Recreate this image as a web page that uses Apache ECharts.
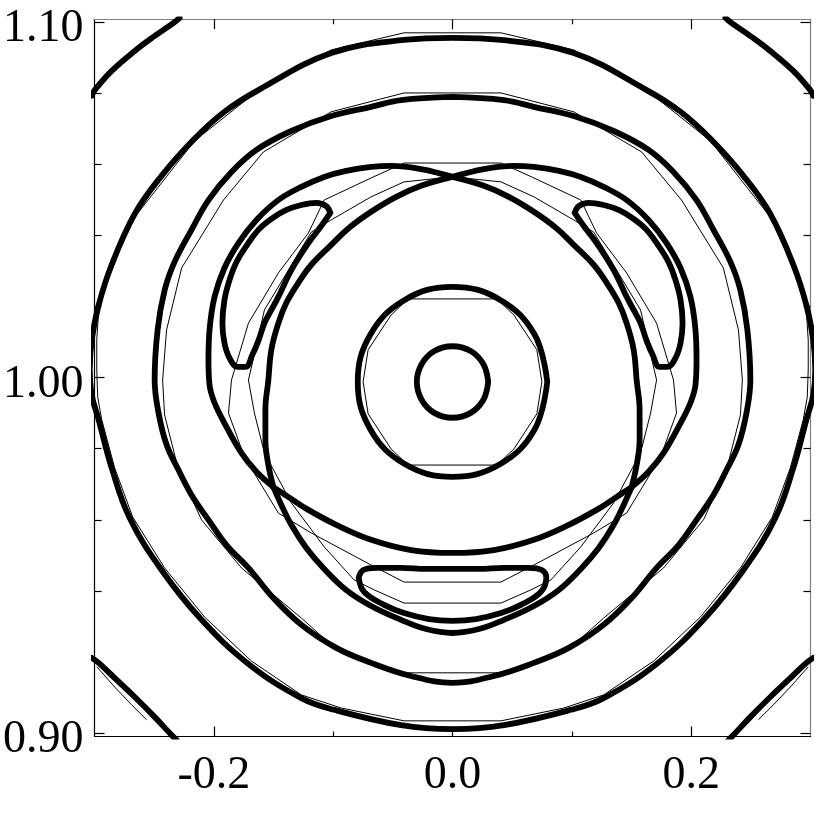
<!DOCTYPE html>
<html><head><meta charset="utf-8">
<script src="https://cdn.jsdelivr.net/npm/echarts@6/dist/echarts.min.js"></script>
<style>html,body{margin:0;padding:0;background:#fff}#c{width:830px;height:830px}</style>
</head><body><div id="c"></div>
<script>
// ---- tick values ----
const xLabelTicks = [-0.2, 0, 0.2];
const xMinorTicks = [-0.1, 0.1];
const yLabelTicks = [0.90, 1.00, 1.10];
const yMinorTicks = [0.92, 0.94, 0.96, 0.98, 1.02, 1.04, 1.06, 1.08];

// ---- thick contours ----
const ringSmall = [[0.0299,0.9988],[0.0258,1.0038],[0.0149,1.0075],[0,1.0088],[-0.0149,1.0075],[-0.0258,1.0038],[-0.0299,0.9988],[-0.0258,0.9937],[-0.0149,0.9900],[0,0.9887],[0.0149,0.9900],[0.0258,0.9937],[0.0299,0.9988]];
const ringMedium = [[0.0794,0.9988],[0.0688,1.0121],[0.0397,1.0219],[0,1.0255],[-0.0397,1.0219],[-0.0688,1.0121],[-0.0794,0.9988],[-0.0688,0.9854],[-0.0397,0.9756],[0,0.9721],[0.0397,0.9756],[0.0688,0.9854],[0.0794,0.9988]];
const ringFour = [[0,1.0789],[-0.0431,1.0780],[-0.0682,1.0761],[-0.1016,1.0735],[-0.1351,1.0693],[-0.1643,1.0640],[-0.1852,1.0578],[-0.2045,1.0499],[-0.2187,1.0415],[-0.2329,1.0325],[-0.2412,1.0246],[-0.2471,1.0134],[-0.2496,0.9993],[-0.2463,0.9900],[-0.2396,0.9811],[-0.2296,0.9740],[-0.2187,0.9670],[-0.2045,0.9600],[-0.1894,0.9529],[-0.1710,0.9465],[-0.1501,0.9380],[-0.1267,0.9305],[-0.0974,0.9240],[-0.0682,0.9198],[-0.0347,0.9161],[0,0.9142],[0.0347,0.9161],[0.0682,0.9198],[0.0974,0.9240],[0.1267,0.9305],[0.1501,0.9380],[0.1710,0.9465],[0.1894,0.9529],[0.2045,0.9600],[0.2187,0.9670],[0.2296,0.9740],[0.2396,0.9811],[0.2463,0.9900],[0.2496,0.9993],[0.2471,1.0134],[0.2412,1.0246],[0.2329,1.0325],[0.2187,1.0415],[0.2045,1.0499],[0.1852,1.0578],[0.1643,1.0640],[0.1351,1.0693],[0.1016,1.0735],[0.0682,1.0761],[0.0431,1.0780],[0,1.0789]];
const ringFive = [[0,1.0955],[-0.0406,1.0949],[-0.1016,1.0912],[-0.1627,1.0808],[-0.1911,1.0747],[-0.2162,1.0671],[-0.2438,1.0567],[-0.2663,1.0460],[-0.2856,1.0317],[-0.2965,1.0204],[-0.3023,1.0106],[-0.3040,1.0021],[-0.3023,0.9951],[-0.2965,0.9881],[-0.2856,0.9746],[-0.2705,0.9605],[-0.2438,0.9459],[-0.2103,0.9319],[-0.1710,0.9195],[-0.1267,0.9099],[-0.0991,0.9066],[-0.0431,0.9023],[0,0.9012],[0.0431,0.9023],[0.0991,0.9066],[0.1267,0.9099],[0.1710,0.9195],[0.2103,0.9319],[0.2438,0.9459],[0.2705,0.9605],[0.2856,0.9746],[0.2965,0.9881],[0.3023,0.9951],[0.3040,1.0021],[0.3023,1.0106],[0.2965,1.0204],[0.2856,1.0317],[0.2663,1.0460],[0.2438,1.0567],[0.2162,1.0671],[0.1911,1.0747],[0.1627,1.0808],[0.1016,1.0912],[0.0406,1.0949],[0,1.0955]];
const sepOuterLeft = [[0,1.0564],[-0.0263,1.0586],[-0.0514,1.0595],[-0.0682,1.0592],[-0.0891,1.0581],[-0.1075,1.0564],[-0.1267,1.0536],[-0.1459,1.0499],[-0.1643,1.0443],[-0.1794,1.0378],[-0.1911,1.0308],[-0.1994,1.0227],[-0.2036,1.0134],[-0.2045,1.0049],[-0.2036,0.9979],[-0.1994,0.9929],[-0.1911,0.9872],[-0.1769,0.9788],[-0.1643,0.9735],[-0.1501,0.9692]];
const sepOuterRight = [[0,1.0564],[0.0263,1.0586],[0.0514,1.0595],[0.0682,1.0592],[0.0891,1.0581],[0.1075,1.0564],[0.1267,1.0536],[0.1459,1.0499],[0.1643,1.0443],[0.1794,1.0378],[0.1911,1.0308],[0.1994,1.0227],[0.2036,1.0134],[0.2045,1.0049],[0.2036,0.9979],[0.1994,0.9929],[0.1911,0.9872],[0.1769,0.9788],[0.1643,0.9735],[0.1501,0.9692]];
const sepInnerLeft = [[0,1.0564],[-0.0263,1.0539],[-0.0472,1.0508],[-0.0682,1.0466],[-0.0866,1.0421],[-0.1016,1.0373],[-0.1183,1.0317],[-0.1292,1.0266],[-0.1392,1.0210],[-0.1459,1.0153],[-0.1518,1.0078],[-0.1543,0.9993],[-0.1568,0.9909],[-0.1568,0.9825],[-0.1543,0.9754],[-0.1501,0.9692]];
const sepInnerRight = [[0,1.0564],[0.0263,1.0539],[0.0472,1.0508],[0.0682,1.0466],[0.0866,1.0421],[0.1016,1.0373],[0.1183,1.0317],[0.1292,1.0266],[0.1392,1.0210],[0.1459,1.0153],[0.1518,1.0078],[0.1543,0.9993],[0.1568,0.9909],[0.1568,0.9825],[0.1543,0.9754],[0.1501,0.9692]];
const sepInnerBottom = [[-0.1501,0.9692],[-0.1351,0.9659],[-0.1208,0.9628],[-0.0974,0.9586],[-0.0682,0.9544],[-0.0347,0.9515],[0,0.9507],[0.0347,0.9515],[0.0682,0.9544],[0.0974,0.9586],[0.1208,0.9628],[0.1351,0.9659],[0.1501,0.9692]];
const sepOuterBottom = [[-0.1501,0.9692],[-0.1434,0.9642],[-0.1351,0.9586],[-0.1225,0.9521],[-0.1075,0.9462],[-0.0891,0.9403],[-0.0682,0.9358],[-0.0431,0.9319],[-0.0222,0.9293],[0,0.9282],[0.0222,0.9293],[0.0431,0.9319],[0.0682,0.9358],[0.0891,0.9403],[0.1075,0.9462],[0.1225,0.9521],[0.1351,0.9586],[0.1434,0.9642],[0.1501,0.9692]];
const islandLeft = [[-0.1024,1.0463],[-0.1058,1.0482],[-0.1141,1.0491],[-0.1267,1.0485],[-0.1392,1.0471],[-0.1518,1.0446],[-0.1627,1.0415],[-0.1727,1.0370],[-0.1810,1.0325],[-0.1869,1.0274],[-0.1911,1.0218],[-0.1928,1.0153],[-0.1911,1.0097],[-0.1869,1.0055],[-0.1802,1.0030],[-0.1735,1.0030],[-0.1677,1.0064],[-0.1627,1.0103],[-0.1576,1.0153],[-0.1518,1.0190],[-0.1459,1.0227],[-0.1351,1.0302],[-0.1208,1.0378],[-0.1100,1.0426],[-0.1024,1.0463]];
const islandRight = [[0.1024,1.0463],[0.1058,1.0482],[0.1141,1.0491],[0.1267,1.0485],[0.1392,1.0471],[0.1518,1.0446],[0.1627,1.0415],[0.1727,1.0370],[0.1810,1.0325],[0.1869,1.0274],[0.1911,1.0218],[0.1928,1.0153],[0.1911,1.0097],[0.1869,1.0055],[0.1802,1.0030],[0.1735,1.0030],[0.1677,1.0064],[0.1627,1.0103],[0.1576,1.0153],[0.1518,1.0190],[0.1459,1.0227],[0.1351,1.0302],[0.1208,1.0378],[0.1100,1.0426],[0.1024,1.0463]];
const islandBottom = [[-0.0786,0.9437],[-0.0748,0.9459],[-0.0640,0.9465],[-0.0431,0.9465],[-0.0222,0.9462],[0,0.9462],[0.0222,0.9462],[0.0431,0.9465],[0.0640,0.9465],[0.0748,0.9459],[0.0786,0.9437],[0.0740,0.9397],[0.0573,0.9361],[0.0406,0.9338],[0.0197,0.9321],[0,0.9316],[-0.0197,0.9321],[-0.0406,0.9338],[-0.0573,0.9361],[-0.0740,0.9397],[-0.0786,0.9437]];
const cornerTL = [[-0.3023,1.0792],[-0.2998,1.0808],[-0.2856,1.0862],[-0.2663,1.0918],[-0.2505,1.0958],[-0.2337,1.0997],[-0.2287,1.1011]];
const cornerTR = [[0.3023,1.0792],[0.2998,1.0808],[0.2856,1.0862],[0.2663,1.0918],[0.2505,1.0958],[0.2337,1.0997],[0.2287,1.1011]];
const cornerBL = [[-0.3023,0.9212],[-0.2965,0.9198],[-0.2814,0.9150],[-0.2663,0.9102],[-0.2505,0.9049],[-0.2354,0.8995],[-0.2312,0.8981]];
const cornerBR = [[0.3023,0.9212],[0.2965,0.9198],[0.2814,0.9150],[0.2663,0.9102],[0.2505,0.9049],[0.2354,0.8995],[0.2312,0.8981]];

// ---- thin (coarse) contours ----
const thinHex = [[-0.0372,1.0221],[0.0372,1.0221],[0.0514,1.0176],[0.0707,1.0078],[0.0749,0.9988],[0.0707,0.9898],[0.0514,0.9799],[0.0372,0.9754],[-0.0372,0.9754],[-0.0514,0.9799],[-0.0707,0.9898],[-0.0749,0.9988],[-0.0707,1.0078],[-0.0514,1.0176],[-0.0372,1.0221]];
const thinFive = [[-0.0406,1.0969],[0.0406,1.0969],[0.1016,1.0921],[0.1627,1.0808],[0.2162,1.0665],[0.2663,1.0451],[0.2856,1.0308],[0.2965,1.0190],[0.2981,1.0106],[0.2981,1.0021],[0.2973,0.9945],[0.2939,0.9881],[0.2831,0.9746],[0.2680,0.9608],[0.2413,0.9465],[0.2078,0.9327],[0.1685,0.9203],[0.1267,0.9108],[0.0932,0.9071],[0.0406,0.9035],[-0.0406,0.9035],[-0.0932,0.9071],[-0.1267,0.9108],[-0.1685,0.9203],[-0.2078,0.9327],[-0.2413,0.9465],[-0.2680,0.9608],[-0.2831,0.9746],[-0.2939,0.9881],[-0.2973,0.9945],[-0.2981,1.0021],[-0.2981,1.0106],[-0.2965,1.0190],[-0.2856,1.0308],[-0.2663,1.0451],[-0.2162,1.0665],[-0.1627,1.0808],[-0.1016,1.0921],[-0.0406,1.0969]];
const thinFour = [[-0.0406,1.0800],[0.0406,1.0800],[0.1016,1.0747],[0.1585,1.0634],[0.1919,1.0499],[0.2270,1.0308],[0.2396,1.0134],[0.2429,0.9993],[0.2413,0.9895],[0.2296,0.9740],[0.2103,0.9600],[0.1769,0.9465],[0.1267,0.9324],[0.0966,0.9234],[0.0406,0.9170],[-0.0406,0.9170],[-0.0966,0.9234],[-0.1267,0.9324],[-0.1769,0.9465],[-0.2103,0.9600],[-0.2296,0.9740],[-0.2413,0.9895],[-0.2429,0.9993],[-0.2396,1.0134],[-0.2270,1.0308],[-0.1919,1.0499],[-0.1585,1.0634],[-0.1016,1.0747],[-0.0406,1.0800]];
const thinSepOuter = [[-0.0406,1.0603],[0.0406,1.0603],[0.0682,1.0561],[0.1075,1.0499],[0.1208,1.0406],[0.1459,1.0294],[0.1710,1.0153],[0.1852,0.9993],[0.1877,0.9900],[0.1744,0.9777],[0.1459,0.9619],[0.1183,0.9563],[0.0682,0.9473],[0.0406,0.9425],[-0.0406,0.9425],[-0.0682,0.9473],[-0.1183,0.9563],[-0.1459,0.9619],[-0.1744,0.9777],[-0.1877,0.9900],[-0.1852,0.9993],[-0.1710,1.0153],[-0.1459,1.0294],[-0.1208,1.0406],[-0.1075,1.0499],[-0.0682,1.0561],[-0.0406,1.0603]];
const thinSepInner = [[0,1.0564],[0.0406,1.0550],[0.0682,1.0508],[0.1016,1.0443],[0.1183,1.0409],[0.1576,1.0190],[0.1710,0.9993],[0.1660,0.9900],[0.1576,0.9788],[0.1351,0.9648],[0.1075,0.9524],[0.0824,0.9431],[0.0656,0.9403],[0.0406,0.9366],[-0.0406,0.9366],[-0.0656,0.9403],[-0.0824,0.9431],[-0.1075,0.9524],[-0.1351,0.9648],[-0.1576,0.9788],[-0.1660,0.9900],[-0.1710,0.9993],[-0.1576,1.0190],[-0.1183,1.0409],[-0.1016,1.0443],[-0.0682,1.0508],[-0.0406,1.0550],[0,1.0564]];
const thinCornerBL = [[-0.2981,0.9187],[-0.2839,0.9133],[-0.2689,0.9080],[-0.2563,0.9038]];
const thinCornerBR = [[0.2981,0.9187],[0.2839,0.9133],[0.2689,0.9080],[0.2563,0.9038]];

const thickCurves = [ringSmall, ringMedium, ringFour, ringFive, sepOuterLeft, sepOuterRight, sepInnerLeft, sepInnerRight, sepInnerBottom, sepOuterBottom, islandLeft, islandRight, islandBottom, cornerTL, cornerTR, cornerBL, cornerBR];
const thinCurves = [thinHex, thinFive, thinFour, thinSepOuter, thinSepInner, thinCornerBL, thinCornerBR];

const X_MIN = -0.3, X_MAX = 0.3, Y_MIN = 0.8991, Y_MAX = 1.1007;
const FONT = "'Liberation Serif','DejaVu Serif',serif";

function xAx(pos, ticks, len, lineColor, showLabel) {
  return {
    type: 'value', position: pos, min: X_MIN, max: X_MAX,
    axisLine: { show: lineColor !== null, onZero: false, lineStyle: { color: lineColor || '#000', width: 1.2 } },
    axisTick: { show: true, inside: true, length: len, customValues: ticks, lineStyle: { color: '#000', width: 1.2 } },
    axisLabel: showLabel ? { show: true, customValues: ticks, formatter: v => v.toFixed(1), fontFamily: FONT, fontSize: 46, color: '#000', margin: 16 } : { show: false },
    splitLine: { show: false }
  };
}
function yAx(pos, ticks, len, lineColor, showLabel) {
  return {
    type: 'value', position: pos, min: Y_MIN, max: Y_MAX,
    axisLine: { show: lineColor !== null, onZero: false, lineStyle: { color: lineColor || '#000', width: 1.2 } },
    axisTick: { show: true, inside: true, length: len, customValues: ticks, lineStyle: { color: '#000', width: 1.2 } },
    axisLabel: showLabel ? {
      show: true, customValues: ticks, margin: 11,
      formatter: v => '{a|' + v.toFixed(2) + '}',
      rich: { a: { fontFamily: FONT, fontSize: 46, color: '#000', padding: [14, 0, 0, 0] } }
    } : { show: false },
    splitLine: { show: false }
  };
}

const series = [];
thinCurves.forEach((d, i) => series.push({
  type: 'line', name: 'thin' + i, data: d, showSymbol: false, symbol: 'none', silent: true, smooth: false,
  lineStyle: { color: '#000', width: 1 }, z: 2, animation: false
}));
thickCurves.forEach((d, i) => series.push({
  type: 'line', name: 'thick' + i, data: d, showSymbol: false, symbol: 'none', silent: true, smooth: 0.4,
  lineStyle: { color: '#000', width: 5.8, cap: 'round', join: 'round' }, z: 3, animation: false
}));

const chart = echarts.init(document.getElementById('c'), null, { renderer: 'canvas' });
chart.setOption({
  animation: false,
  backgroundColor: '#ffffff',
  grid: { left: 92.5, right: 19.5, top: 19.3, bottom: 93.5, containLabel: false },
  xAxis: [
    xAx('bottom', xLabelTicks, 10, '#000', true),
    xAx('bottom', xMinorTicks, 5, null, false),
    xAx('top', xLabelTicks, 10, '#808080', false),
    xAx('top', xMinorTicks, 5, null, false)
  ],
  yAxis: [
    yAx('left', yLabelTicks, 10, '#000', true),
    yAx('left', yMinorTicks, 7, null, false),
    yAx('right', yLabelTicks, 10, '#808080', false),
    yAx('right', yMinorTicks, 7, null, false)
  ],
  series: series
});
</script></body></html>
